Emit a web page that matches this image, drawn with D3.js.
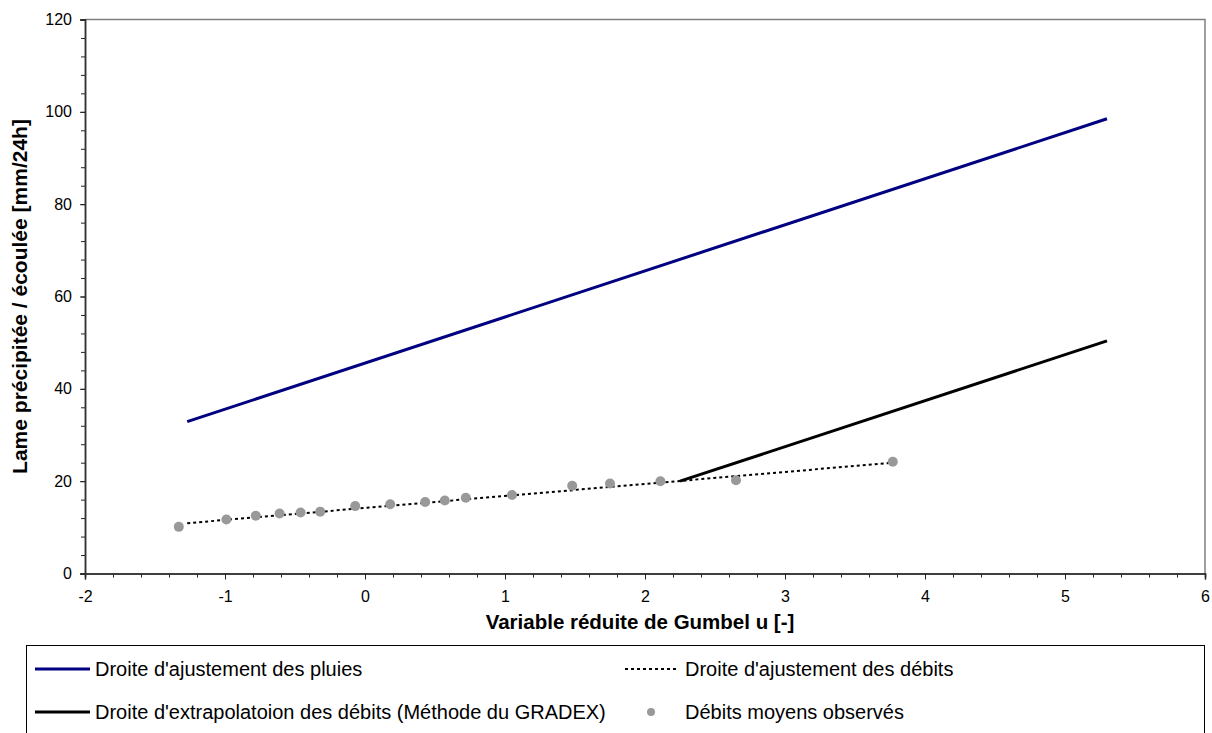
<!DOCTYPE html>
<html>
<head>
<meta charset="utf-8">
<script src="https://cdn.jsdelivr.net/npm/d3@7"></script>
<style>
  body { margin: 0; background: #fff; }
  svg { display: block; font-family: "Liberation Sans", Arial, sans-serif; }
</style>
</head>
<body>
<svg id="chart" width="1212" height="733"></svg>
<script>
// observed points (Gumbel reduced variate, runoff depth)
const uObserved = [-1.33, -0.99, -0.78, -0.61, -0.46, -0.32, -0.07, 0.18, 0.43, 0.57, 0.72, 1.05, 1.48, 1.75, 2.11, 2.65, 3.77];
const qObserved = [10.1, 11.7, 12.5, 13.0, 13.2, 13.4, 14.6, 15.0, 15.5, 15.8, 16.4, 17.0, 19.0, 19.5, 20.0, 20.2, 24.2];

// fitted lines as [u, value] end points
const rainLine = [[-1.27, 32.9], [5.30, 98.5]];
const flowFitLine = [[-1.27, 10.9], [3.77, 24.0]];
const gradexLine = [[2.25, 20.0], [5.30, 50.4]];

const xTicks = [-2, -1, 0, 1, 2, 3, 4, 5, 6];
const yTicks = [0, 20, 40, 60, 80, 100, 120];

const legendItems = [
    { label: "Droite d'ajustement des pluies", type: 'line', color: '#000080', dash: null },
    { label: "Droite d'ajustement des débits", type: 'line', color: '#000', dash: '3,3' },
    { label: "Droite d'extrapolatoion des débits (Méthode du GRADEX)", type: 'line', color: '#000', dash: null },
    { label: 'Débits moyens observés', type: 'dot', color: '#999999' },
];

const plot = { left: 85, right: 1205, top: 19.5, bottom: 573.5 };
const fontFamily = '"Liberation Sans", Arial, sans-serif';

const svg = d3.select('#chart');

const x = d3.scaleLinear().domain([-2, 6]).range([plot.left, plot.right]);
const y = d3.scaleLinear().domain([0, 120]).range([plot.bottom, plot.top]);

// plot frame (top/right in grey)
svg.append('path')
    .attr('d', `M${plot.left},${plot.top}H${plot.right}V${plot.bottom}`)
    .attr('fill', 'none')
    .attr('stroke', '#808080')
    .attr('stroke-width', 1.5);

const tickFormat = d => String(d); // plain hyphen for negatives

const xAxisG = svg.append('g').attr('transform', `translate(0,${plot.bottom})`);
xAxisG.call(d3.axisBottom(x).tickValues(d3.range(-2, 6.001, 0.2)).tickSize(4).tickFormat(''));
xAxisG.append('g').call(d3.axisBottom(x).tickValues(xTicks).tickSize(6).tickPadding(11).tickFormat(tickFormat));
xAxisG.selectAll('path.domain').attr('stroke', '#333').attr('stroke-width', 1.5);
xAxisG.selectAll('line').attr('stroke', '#222');
xAxisG.selectAll('text').attr('font-size', 16).attr('fill', '#000').attr('font-family', fontFamily);

const yAxisG = svg.append('g').attr('transform', `translate(${plot.left},0)`);
yAxisG.call(d3.axisLeft(y).tickValues(d3.range(0, 120.001, 4)).tickSize(4).tickFormat(''));
yAxisG.append('g').call(d3.axisLeft(y).tickValues(yTicks).tickSize(5).tickPadding(8).tickFormat(tickFormat));
yAxisG.selectAll('path.domain').attr('stroke', '#333').attr('stroke-width', 1.5);
yAxisG.selectAll('line').attr('stroke', '#222');
yAxisG.selectAll('text').attr('font-size', 16).attr('fill', '#000').attr('font-family', fontFamily);

// axis titles
svg.append('text')
    .attr('x', 640)
    .attr('y', 629)
    .attr('text-anchor', 'middle')
    .attr('font-size', 20.5)
    .attr('font-weight', 700)
    .text('Variable réduite de Gumbel u [-]');

svg.append('text')
    .attr('transform', `translate(27,${(plot.top + plot.bottom) / 2}) rotate(-90)`)
    .attr('text-anchor', 'middle')
    .attr('font-size', 21)
    .attr('font-weight', 700)
    .text('Lame précipitée / écoulée [mm/24h]');

const line = d3.line().x(d => x(d[0])).y(d => y(d[1]));

svg.append('path')
    .datum(flowFitLine)
    .attr('d', line)
    .attr('fill', 'none')
    .attr('stroke', '#000')
    .attr('stroke-width', 2)
    .attr('stroke-dasharray', '3,3');

svg.append('path')
    .datum(rainLine)
    .attr('d', line)
    .attr('fill', 'none')
    .attr('stroke', '#000080')
    .attr('stroke-width', 3);

svg.append('path')
    .datum(gradexLine)
    .attr('d', line)
    .attr('fill', 'none')
    .attr('stroke', '#000')
    .attr('stroke-width', 3);

svg.append('g')
    .selectAll('circle')
    .data(uObserved.map((u, i) => [u, qObserved[i]]))
    .join('circle')
    .attr('cx', d => x(d[0]))
    .attr('cy', d => y(d[1]))
    .attr('r', 5)
    .attr('fill', '#999999');

// legend
const legend = svg.append('g');
legend.append('rect')
    .attr('x', 26.5)
    .attr('y', 645.5)
    .attr('width', 1178)
    .attr('height', 120)
    .attr('fill', '#fff')
    .attr('stroke', '#000')
    .attr('stroke-width', 1);

const legendPos = [
    { x: 35, y: 669 },
    { x: 625, y: 669 },
    { x: 35, y: 712 },
    { x: 625, y: 712 },
];

legendItems.forEach((item, i) => {
    const p = legendPos[i];
    const g = legend.append('g').attr('transform', `translate(${p.x},${p.y})`);
    if (item.type === 'line') {
        g.append('line')
            .attr('x1', 0).attr('x2', item.dash ? 52 : 55)
            .attr('y1', 0).attr('y2', 0)
            .attr('stroke', item.color)
            .attr('stroke-width', item.dash ? 2 : 3)
            .attr('stroke-dasharray', item.dash);
    } else {
        g.append('circle')
            .attr('cx', 26).attr('cy', 0).attr('r', 4)
            .attr('fill', item.color);
    }
    g.append('text')
        .attr('x', 60)
        .attr('y', 0)
        .attr('dy', '0.35em')
        .attr('font-size', 20)
        .text(item.label);
});
</script>
</body>
</html>
